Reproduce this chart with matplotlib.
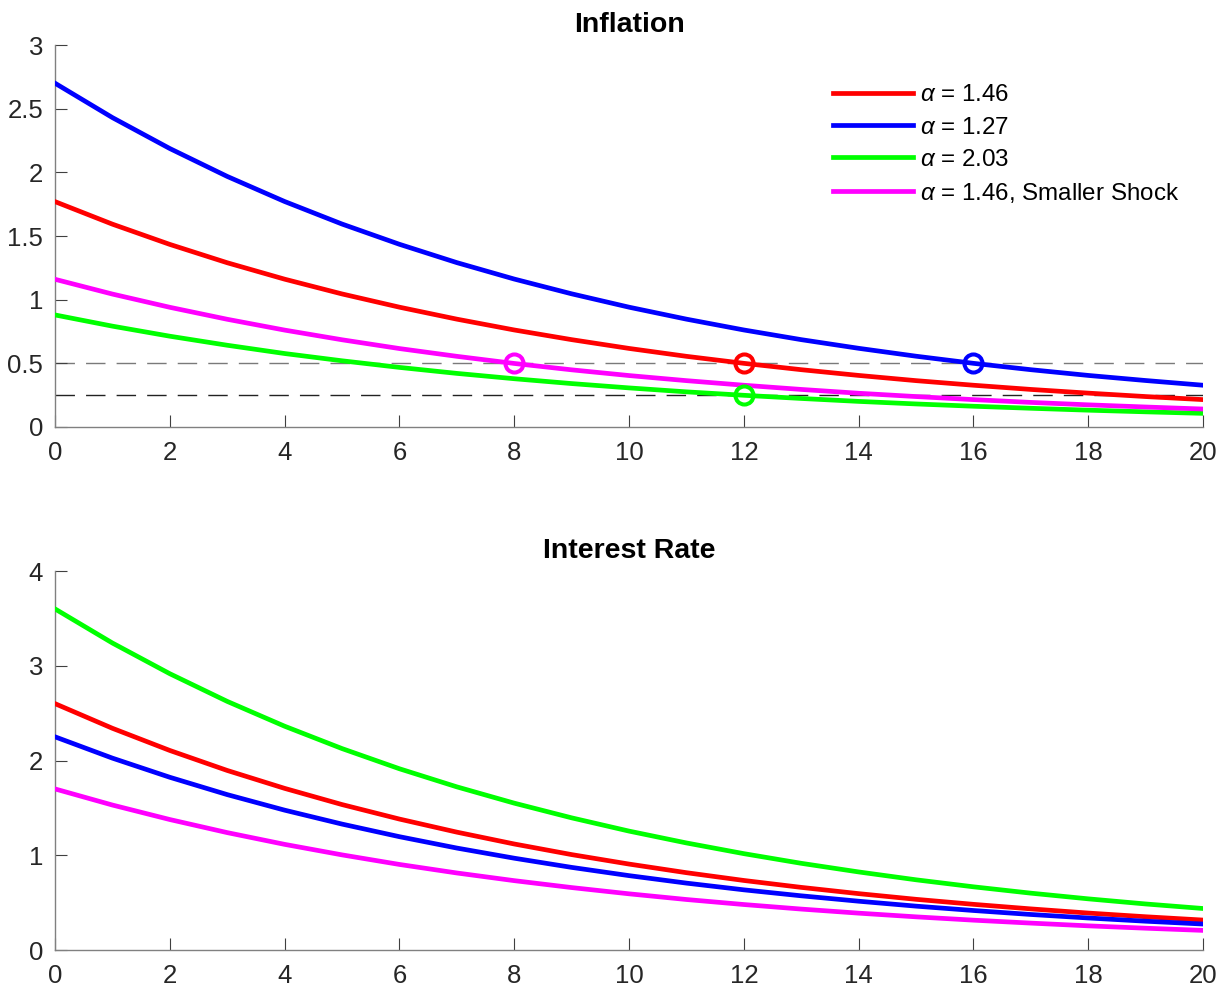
import numpy as np
import matplotlib
matplotlib.use('Agg')
from matplotlib import pyplot as plt

plt.rcParams['font.family'] = ['Liberation Sans', 'DejaVu Sans']
plt.rcParams['mathtext.fontset'] = 'custom'
plt.rcParams['mathtext.rm'] = 'Liberation Sans'
plt.rcParams['mathtext.it'] = 'Liberation Sans:italic'

periods = list(range(21))

labels = [r'$\alpha$ = 1.46', r'$\alpha$ = 1.27', r'$\alpha$ = 2.03',
          r'$\alpha$ = 1.46, Smaller Shock']
colors = ['#ff0000', '#0000ff', '#00ff00', '#ff00ff']

# inflation responses
infl_red = [1.77, 1.593, 1.434, 1.290, 1.161, 1.045, 0.941, 0.847, 0.762, 0.686, 0.617,
            0.555, 0.500, 0.450, 0.405, 0.364, 0.328, 0.295, 0.266, 0.239, 0.215]
infl_blue = [2.70, 2.43, 2.187, 1.968, 1.771, 1.594, 1.435, 1.291, 1.162, 1.046, 0.941,
             0.847, 0.762, 0.686, 0.618, 0.556, 0.500, 0.450, 0.405, 0.365, 0.328]
infl_green = [0.88, 0.792, 0.713, 0.642, 0.577, 0.520, 0.468, 0.421, 0.379, 0.341, 0.307,
              0.276, 0.249, 0.224, 0.201, 0.181, 0.163, 0.147, 0.132, 0.119, 0.107]
infl_mag = [1.16, 1.044, 0.940, 0.846, 0.761, 0.685, 0.616, 0.555, 0.499, 0.449, 0.404,
            0.364, 0.328, 0.295, 0.265, 0.239, 0.215, 0.193, 0.174, 0.157, 0.141]

# interest rate responses
rate_red = [2.60, 2.34, 2.106, 1.895, 1.706, 1.535, 1.382, 1.244, 1.119, 1.007, 0.907,
            0.816, 0.734, 0.661, 0.595, 0.535, 0.482, 0.434, 0.390, 0.351, 0.316]
rate_blue = [2.25, 2.025, 1.823, 1.640, 1.476, 1.329, 1.196, 1.076, 0.969, 0.872, 0.785,
             0.706, 0.635, 0.572, 0.515, 0.463, 0.417, 0.375, 0.338, 0.304, 0.274]
rate_green = [3.60, 3.24, 2.916, 2.624, 2.362, 2.126, 1.913, 1.722, 1.550, 1.395, 1.255,
              1.130, 1.017, 0.915, 0.824, 0.741, 0.667, 0.600, 0.540, 0.486, 0.438]
rate_mag = [1.70, 1.53, 1.377, 1.239, 1.115, 1.004, 0.903, 0.813, 0.732, 0.659, 0.593,
            0.533, 0.480, 0.432, 0.389, 0.350, 0.315, 0.284, 0.255, 0.230, 0.207]

# threshold lines and crossing points (period, value) per series
thresholds = [0.5, 0.25]
cross_x = [12, 16, 12, 8]
cross_y = [0.5, 0.5, 0.25, 0.5]

axis_gray = '#808080'
text_col = '#262626'


def style_axes(ax, ymax, yticks, yticklabels):
    ax.set_xlim(0, 20)
    ax.set_ylim(0, ymax)
    ax.set_xticks(range(0, 21, 2))
    ax.set_yticks(yticks)
    ax.set_yticklabels(yticklabels)
    for s in ['top', 'right']:
        ax.spines[s].set_visible(False)
    for s in ['left', 'bottom']:
        ax.spines[s].set_color(axis_gray)
        ax.spines[s].set_linewidth(1.0)
    ax.tick_params(direction='in', length=8.5, width=0.8, color='#404040',
                   labelsize=18.5, labelcolor=text_col)
    ax.tick_params(axis='x', pad=10)
    ax.tick_params(axis='y', pad=8.5)


fig = plt.figure(figsize=(12.18, 9.9), dpi=100)
ax1 = fig.add_axes([0.0452, 0.5687, 0.9425, 0.3858])
ax2 = fig.add_axes([0.0452, 0.0404, 0.9425, 0.3828])

infl = [infl_red, infl_blue, infl_green, infl_mag]
rates = [rate_red, rate_blue, rate_green, rate_mag]

ax1.axhline(thresholds[0], color='#7a7a7a', lw=1.0, ls=(0, (14, 8)), zorder=1)
ax1.axhline(thresholds[1], color='#222222', lw=1.0, ls=(0, (14, 8)), zorder=1)

lines = []
for ser, c, lab in zip(infl, colors, labels):
    ln, = ax1.plot(periods, ser, color=c, lw=3.4, label=lab, zorder=3)
    lines.append(ln)
for x, y, c in zip(cross_x, cross_y, colors):
    ax1.plot(x, y, 'o', mfc='none', mec=c, ms=13, mew=2.9, zorder=4)

style_axes(ax1, 3, [0, 0.5, 1, 1.5, 2, 2.5, 3],
           ['0', '0.5', '1', '1.5', '2', '2.5', '3'])
ax1.set_title('Inflation', fontsize=20.5, fontweight='bold', color='black', pad=9.5)

leg = ax1.legend(handles=lines, loc='upper left', bbox_to_anchor=(0.6777, 0.897),
                 frameon=False, fontsize=17.4, handlelength=3.3, handletextpad=0.29,
                 labelspacing=0.42, borderaxespad=0, borderpad=0)
for t in leg.get_texts():
    t.set_color('black')

for ser, c in zip(rates, colors):
    ax2.plot(periods, ser, color=c, lw=3.4, zorder=3)
style_axes(ax2, 4, [0, 1, 2, 3, 4], ['0', '1', '2', '3', '4'])
ax2.set_title('Interest Rate', fontsize=20.5, fontweight='bold', color='black', pad=9.5)

fig.savefig('out.png', dpi=100)
